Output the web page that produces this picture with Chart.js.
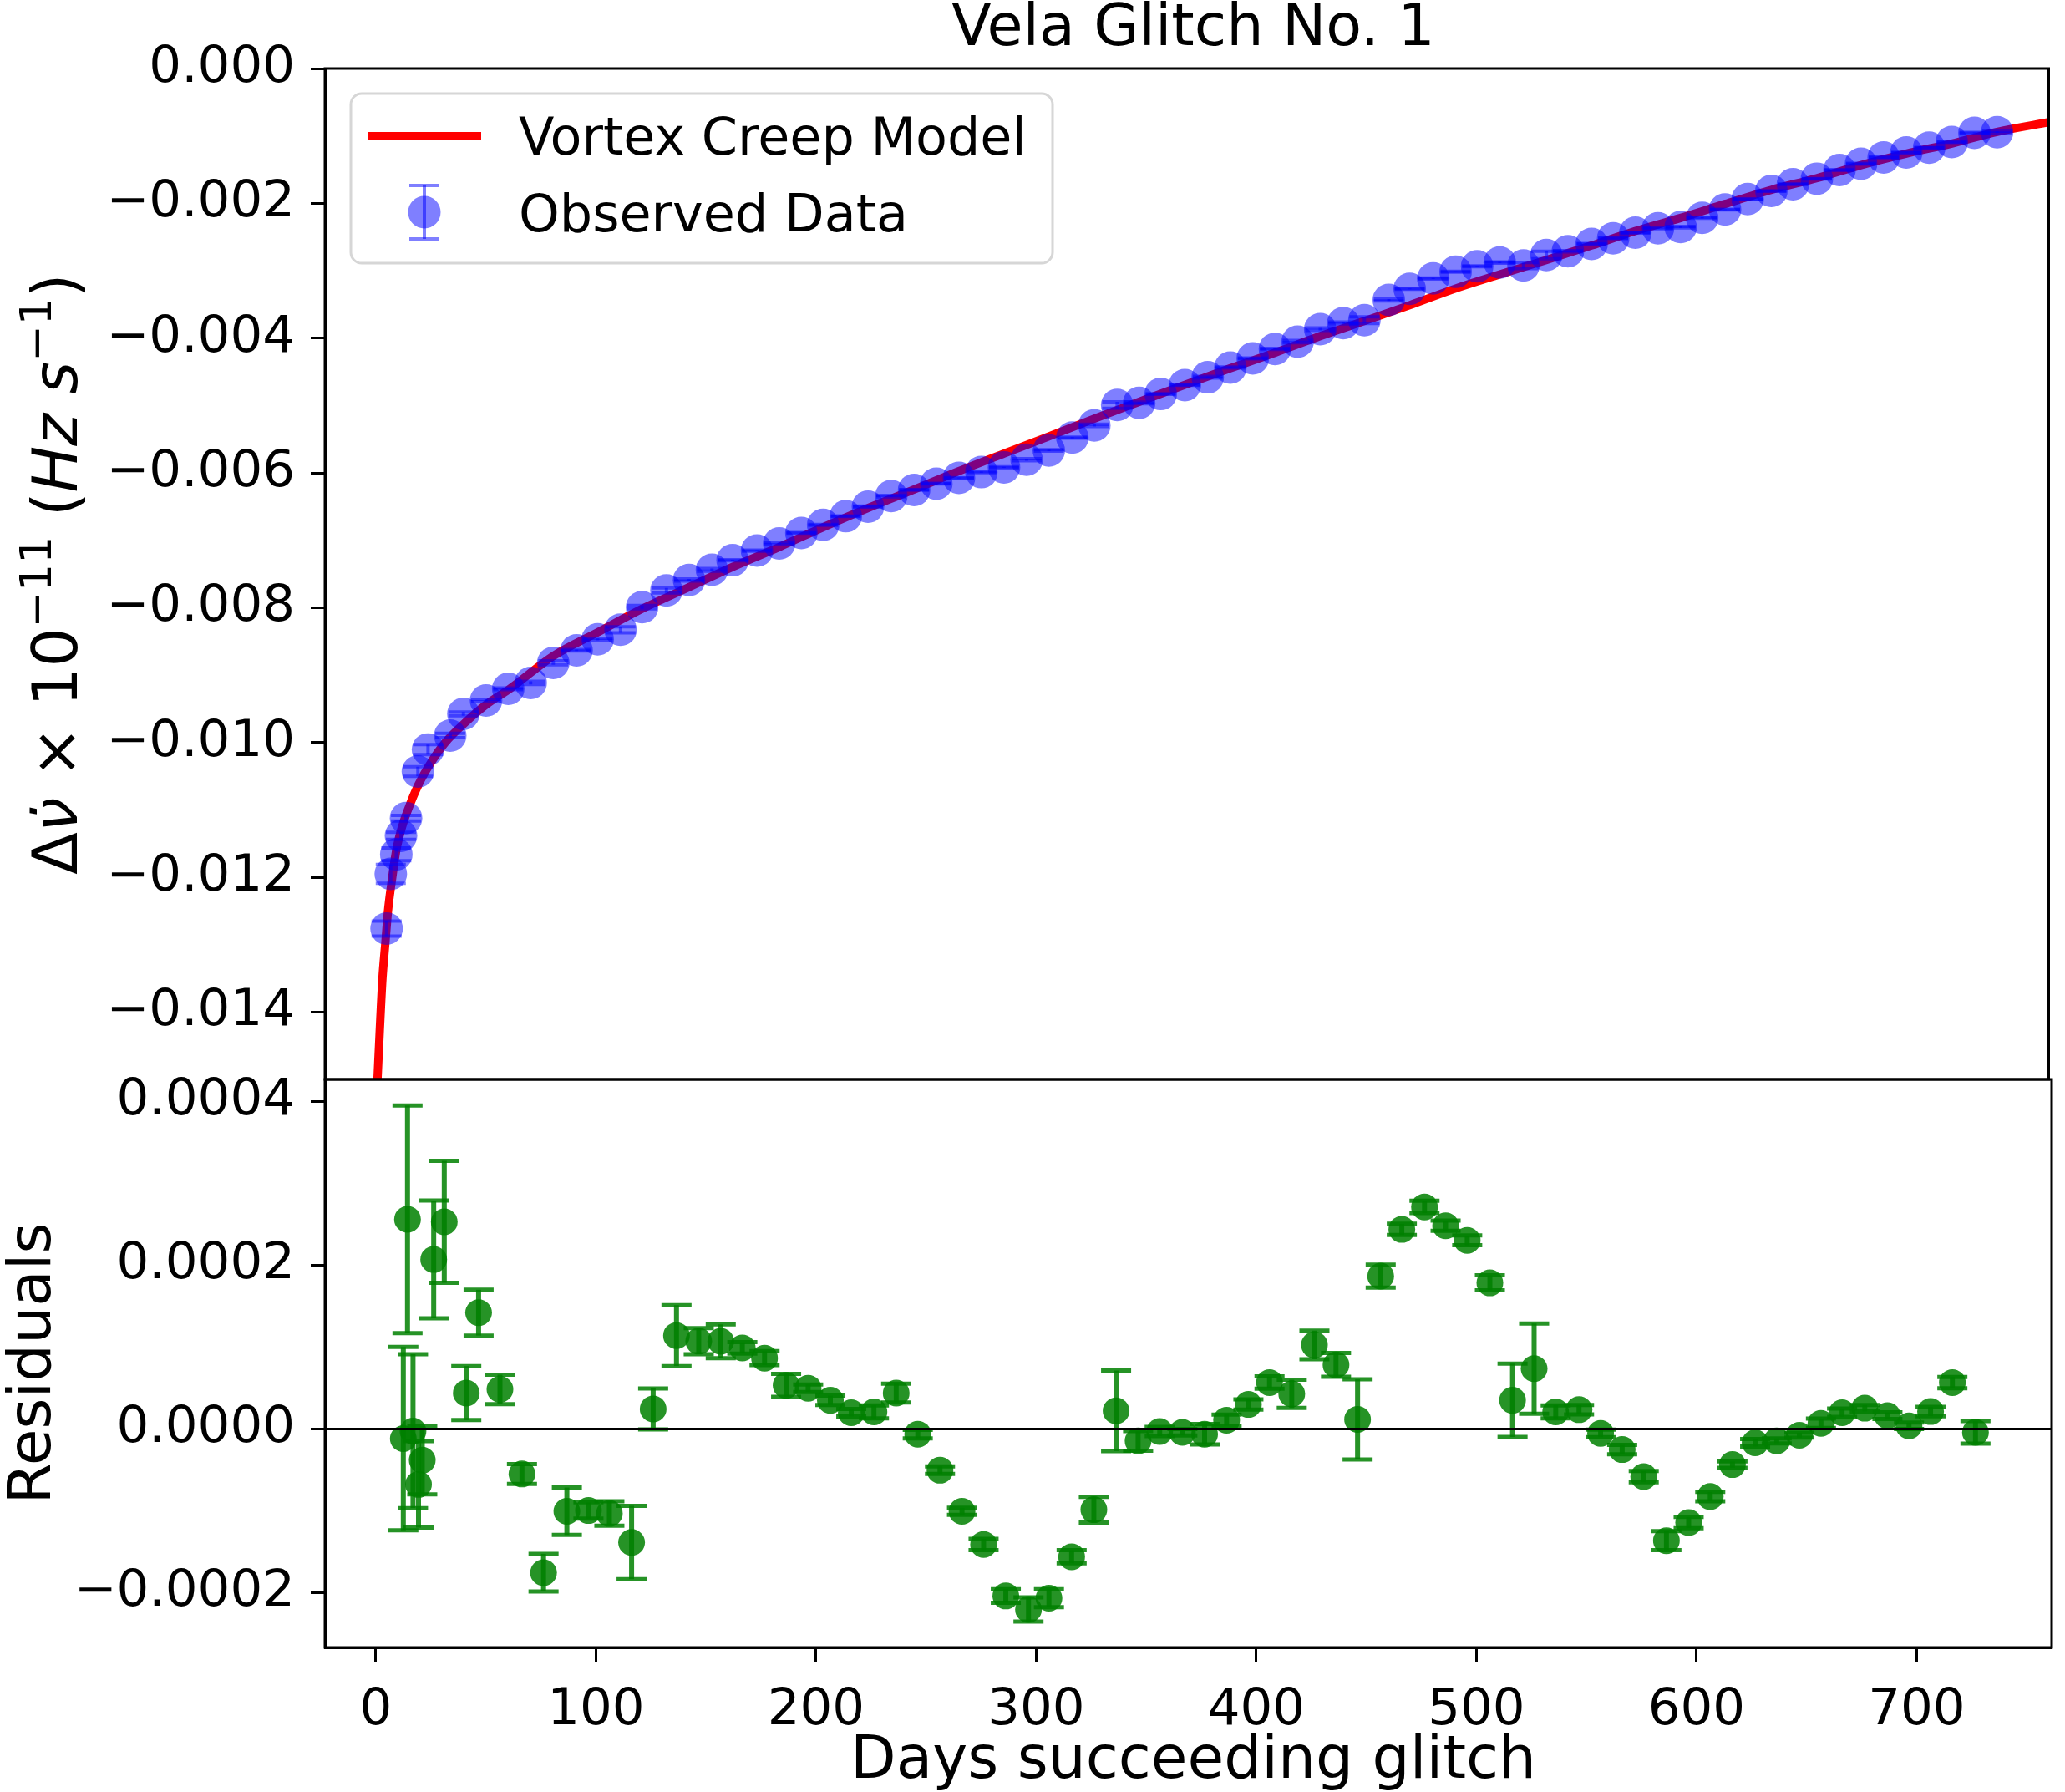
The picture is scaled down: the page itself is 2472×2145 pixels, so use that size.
<!DOCTYPE html>
<html>
<head>
<meta charset="utf-8">
<script src="https://cdn.jsdelivr.net/npm/chart.js@4.4.1/dist/chart.umd.min.js"></script>
<style>
html,body{margin:0;padding:0;background:#ffffff;}
#wrap{position:relative;width:2472px;height:2145px;background:#ffffff;}
#wrap canvas{position:absolute;left:0;top:0;}
</style>
</head>
<body>
<div id="wrap">
<canvas id="topPanel" width="2472" height="2145" style="width:2472px;height:2145px"></canvas>
<canvas id="botPanel" width="2472" height="2145" style="width:2472px;height:2145px"></canvas>
</div>
<script>
// ---------------- data ----------------
const chartTitle = 'Vela Glitch No. 1';
const xAxisLabel = 'Days succeeding glitch';
const residLabel = 'Residuals';
const legendLabels = ['Vortex Creep Model', 'Observed Data'];

// observed data (top panel)
const obsDays = [4.95, 6.85, 9.36, 11.5, 13.8, 19.2, 23.8, 33.9, 39.9, 50.2, 60.3,
  70.5, 80.8, 91.4, 101.0, 111.4, 121.2, 132.3, 142.6, 153.0, 162.4, 173.5, 183.6, 193.7, 203.6,
  213.9, 224.0, 234.6, 245.0, 255.1, 265.4, 275.6, 285.9, 296.2, 306.3, 317.0, 327.0, 337.4, 347.4, 357.2,
  368.2, 378.6, 388.9, 399.1, 409.2, 419.5, 429.8, 440.3, 449.9, 461.0, 470.5, 481.2,
  491.4, 501.2, 511.5, 522.3, 532.7, 542.5, 553.3, 563.1, 573.2, 583.5,
  593.8, 603.6, 614.0, 624.3, 635.1, 644.9, 655.8, 666.1, 675.9, 686.2,
  696.5, 706.9, 717.2, 727.5, 737.8];
const obsValues = [-0.012763, -0.011950, -0.011661, -0.011385, -0.011124, -0.010431, -0.010105, -0.009898, -0.009576, -0.009378, -0.009205,
  -0.009117, -0.008819, -0.008633, -0.008470, -0.008328, -0.007994, -0.007745, -0.007589, -0.007439, -0.007297,
  -0.007154, -0.007048, -0.006892, -0.006772, -0.006643, -0.006501, -0.006345, -0.006253, -0.006160, -0.006075,
  -0.005989, -0.005918, -0.005804, -0.005667, -0.005477, -0.005295, -0.004994, -0.004961, -0.004830,
  -0.004697, -0.004582, -0.004437, -0.004301, -0.004161, -0.004053, -0.003868, -0.003777, -0.003735, -0.003434, -0.003269, -0.003116,
  -0.003017, -0.002934, -0.002878, -0.002923, -0.002768, -0.002712, -0.002602, -0.002519, -0.002436, -0.002370,
  -0.002353, -0.002215, -0.002093, -0.001938, -0.001817, -0.001718, -0.001635, -0.001507, -0.001413, -0.001319,
  -0.001247, -0.001175, -0.001092, -0.000955, -0.000944];
// 1-sigma uncertainties (same for observed points and residuals)
const errors = [0.000112, 0.000139, 0.000094, 0.0000528, 0.0000418, 0.000072, 0.0000745, 0.000033, 0.000028, 0.000018,
  0.000012, 0.000023, 0.000029, 0.00001, 0.000015, 0.0000448, 0.000025, 0.0000372, 0.000016, 0.0000207,
  0.000007, 0.0000085, 0.000014, 0.0000046, 0.0000057, 0.0000046, 0.000008, 0.0000115, 0.0000052, 0.0000046,
  0.0000043, 0.0000069, 0.0000084, 0.0000148, 0.000011, 0.000008, 0.0000157, 0.0000492, 0.000012, 0.0000057,
  0.000004, 0.0000125, 0.0000069, 0.0000062, 0.0000076, 0.0000172, 0.0000175, 0.0000145, 0.0000489, 0.000014,
  0.0000069, 0.0000076, 0.0000062, 0.000006, 0.0000092, 0.0000448, 0.0000552, 0.000008, 0.0000057, 0.0000046,
  0.0000057, 0.0000069, 0.0000115, 0.0000069, 0.0000057, 0.0000039, 0.0000046, 0.000003, 0.000003, 0.0000057,
  0.000005, 0.000004, 0.000004, 0.000004, 0.0000057, 0.0000069, 0.0000137];

// residuals (bottom panel)
const residDays = [12.5, 14.4, 16.9, 19.4, 21.1, 26.3, 31.1, 41.1, 46.7, 56.4, 66.4, 76.2, 86.8, 96.6, 106.1, 116.2,
  126.0, 136.6, 146.7, 156.7, 166.5, 176.6, 186.4, 196.4, 206.5, 216.0, 226.3, 236.4, 246.2, 256.3, 266.3, 276.1,
  286.2, 296.5, 305.8, 316.1, 326.2, 336.3, 346.3, 356.1, 366.4, 376.5, 386.5, 396.4, 406.0, 416.1, 426.4, 436.2,
  446.0, 456.5, 466.1, 476.4, 486.0, 495.8, 506.1, 516.4, 526.2, 536.0, 546.6, 556.4, 566.2, 576.0, 586.3, 596.4,
  606.2, 616.3, 626.6, 636.4, 646.7, 656.5, 666.1, 676.4, 686.7, 696.5, 706.3, 716.2, 726.7];
const residuals = [-0.0000118, 0.000256, -0.0000027, -0.0000678, -0.0000382, 0.000207, 0.000253, 0.0000438, 0.000142, 0.0000483,
  -0.0000551, -0.0001756, -0.0001006, -0.0000997, -0.0001033, -0.0001387, 0.0000244, 0.000114, 0.0001072, 0.000107,
  0.0000989, 0.0000865, 0.0000533, 0.0000497, 0.000035, 0.0000198, 0.0000208, 0.0000438, -0.0000064, -0.0000505,
  -0.0001006, -0.0001411, -0.0002041, -0.0002206, -0.0002068, -0.0001562, -0.0000987, 0.0000221, -0.0000147, -0.0000032,
  -0.0000041, -0.0000064, 0.0000107, 0.0000299, 0.0000566, 0.0000428, 0.0001026, 0.0000782, 0.0000116, 0.0001867,
  0.0002437, 0.0002712, 0.0002482, 0.0002303, 0.0001784, 0.000035, 0.0000736, 0.0000208, 0.0000235, -0.0000055,
  -0.0000252, -0.0000583, -0.0001365, -0.0001144, -0.0000826, -0.0000436, -0.0000169, -0.0000146, -0.0000077, 0.0000069,
  0.0000198, 0.0000253, 0.0000162, 0.0000038, 0.0000212, 0.0000566, -0.0000042];

// vortex creep model curve
const modelDays = [0.8, 1.81, 3.07, 4.33, 5.59, 7.2, 9.36, 11.9, 15.0, 19.4, 25.1, 31.4, 40.2, 50.2, 61.6,
  80.8, 101.0, 121.2, 142.6, 162.4, 183.6, 203.6, 224.0, 245.0, 265.4, 285.9, 306.3, 327.0, 347.4, 368.2,
  388.9, 409.2, 429.8, 449.9, 470.5, 491.4, 511.5, 532.7, 553.3, 573.2, 593.8, 614.0, 635.1, 655.8, 675.9,
  696.5, 717.2, 737.8, 762.4];
const modelValues = [-0.01500, -0.01430, -0.01350, -0.01300, -0.01250, -0.01208, -0.01160, -0.01126, -0.01097, -0.01063,
  -0.01030, -0.01001, -0.00972, -0.00944, -0.00919,
  -0.008718, -0.008367, -0.008018, -0.007696, -0.007396, -0.007101, -0.006807, -0.006522, -0.006247, -0.005974,
  -0.005714, -0.005460, -0.005196, -0.004946, -0.004693, -0.004448, -0.004218, -0.003971, -0.003747, -0.003513,
  -0.003265, -0.003056, -0.002842, -0.002626, -0.002411, -0.002217, -0.002010, -0.001800, -0.001627, -0.001433,
  -0.001263, -0.001113, -0.000940, -0.00079];

// tick values
const topTicks = [0, -0.002, -0.004, -0.006, -0.008, -0.010, -0.012, -0.014];
const residTicks = [0.0004, 0.0002, 0, -0.0002];
const dayTicks = [0, 100, 200, 300, 400, 500, 600, 700];

// ---------------- layout / style ----------------
const W = 2472, H = 2145;
const AX_L = 389, AX_R = 2468, TOP_T = 82, SPLIT = 1292, BOT_B = 1972;
const X_MIN = -23.1, X_MAX = 761.3;
const FONT = 'DejaVu Sans';
const TICK_FONT = 61, LEGEND_FONT = 62, LABEL_FONT = 71, TITLE_FONT = 70, YMATH_FONT = 74;
Chart.defaults.font.family = FONT;
Chart.defaults.color = '#000';

function fmt(v, d) {
  const s = (Math.abs(v) < 1e-12 ? 0 : v).toFixed(d);
  return s.replace('-', '\u2212');
}

function fixTicks(list) {
  return function (scale) { scale.ticks = list.map(v => ({ value: v })); };
}

const axisGrid = { display: true, drawOnChartArea: false, drawTicks: true, tickLength: 17, tickWidth: 3, tickColor: '#000' };
const axisBorder = { display: true, color: '#000', width: 3 };

// error bars drawn through the chart's scales
const errorBarPlugin = {
  id: 'errorBars',
  afterDatasetsDraw(chart, args, opts) {
    const ds = chart.data.datasets[opts.datasetIndex];
    const xs = chart.scales.x, ys = chart.scales.y;
    const ctx = chart.ctx, a = chart.chartArea;
    ctx.save();
    ctx.beginPath(); ctx.rect(a.left, a.top, a.right - a.left, a.bottom - a.top); ctx.clip();
    ctx.strokeStyle = opts.color;
    ctx.lineCap = 'butt';
    ds.data.forEach((p, i) => {
      const e = opts.errors[i];
      const x = xs.getPixelForValue(p.x);
      const y1 = ys.getPixelForValue(p.y - e);
      const y2 = ys.getPixelForValue(p.y + e);
      ctx.lineWidth = opts.barWidth;
      ctx.beginPath(); ctx.moveTo(x, y1); ctx.lineTo(x, y2); ctx.stroke();
      ctx.lineWidth = opts.capThick;
      ctx.beginPath();
      ctx.moveTo(x - opts.capHalf, y1); ctx.lineTo(x + opts.capHalf, y1);
      ctx.stroke();
      ctx.beginPath();
      ctx.moveTo(x - opts.capHalf, y2); ctx.lineTo(x + opts.capHalf, y2);
      ctx.stroke();
    });
    ctx.restore();
  }
};

const framePlugin = {
  id: 'frame',
  afterDraw(chart) {
    const ctx = chart.ctx, a = chart.chartArea;
    ctx.save();
    ctx.strokeStyle = '#000';
    ctx.lineWidth = 3;
    ctx.strokeRect(a.left, a.top, a.right - a.left, a.bottom - a.top);
    ctx.restore();
  }
};

function drawMathYLabel(ctx, baseX, centerY, size) {
  const segs = [
    { t: '\u0394', it: false, s: 1, r: 0 },
    { t: '\u03BD\u0307', it: true, s: 1, r: 0 },
    { t: ' \u00D7 ', it: false, s: 1, r: 0 },
    { t: '10', it: false, s: 1, r: 0 },
    { t: '\u221211', it: false, s: 0.7, r: 0.42 },
    { t: ' (', it: false, s: 1, r: 0 },
    { t: 'Hz', it: true, s: 1, r: 0 },
    { t: ' ', it: false, s: 1, r: 0 },
    { t: 's', it: true, s: 1, r: 0 },
    { t: '\u22121', it: false, s: 0.7, r: 0.42 },
    { t: ')', it: false, s: 1, r: 0 }
  ];
  const fontOf = g => (g.it ? 'italic ' : '') + Math.round(size * g.s) + 'px "' + FONT + '"';
  let total = 0;
  segs.forEach(g => { ctx.font = fontOf(g); g.w = ctx.measureText(g.t).width; total += g.w; });
  ctx.save();
  ctx.translate(baseX, centerY);
  ctx.rotate(-Math.PI / 2);
  ctx.fillStyle = '#000';
  ctx.textBaseline = 'alphabetic';
  ctx.textAlign = 'left';
  let x = -total / 2;
  segs.forEach(g => {
    ctx.font = fontOf(g);
    ctx.fillText(g.t, x, -g.r * size);
    x += g.w;
  });
  ctx.restore();
}

const topDecor = {
  id: 'topDecor',
  afterDraw(chart) {
    const ctx = chart.ctx;
    ctx.save();
    // title
    ctx.fillStyle = '#000';
    ctx.font = TITLE_FONT + 'px "' + FONT + '"';
    ctx.textAlign = 'center';
    ctx.textBaseline = 'alphabetic';
    ctx.fillText(chartTitle, (AX_L + AX_R) / 2, 54);
    // y label
    drawMathYLabel(ctx, 92, (TOP_T + SPLIT) / 2, YMATH_FONT);
    // legend box
    const bx = 420, by = 112, bw = 840, bh = 203, rr = 13;
    ctx.beginPath();
    ctx.roundRect(bx, by, bw, bh, rr);
    ctx.fillStyle = 'rgba(255,255,255,0.8)';
    ctx.fill();
    ctx.lineWidth = 3;
    ctx.strokeStyle = '#d6d6d6';
    ctx.stroke();
    // red line handle
    ctx.strokeStyle = 'red';
    ctx.lineWidth = 10;
    ctx.lineCap = 'butt';
    ctx.beginPath(); ctx.moveTo(440, 163); ctx.lineTo(576, 163); ctx.stroke();
    // errorbar handle
    ctx.fillStyle = 'rgba(0,0,255,0.5)';
    ctx.beginPath(); ctx.arc(508, 254, 19.5, 0, Math.PI * 2); ctx.fill();
    ctx.strokeStyle = 'rgba(0,0,255,0.5)';
    ctx.lineWidth = 4;
    ctx.beginPath(); ctx.moveTo(508, 222); ctx.lineTo(508, 286); ctx.stroke();
    ctx.beginPath(); ctx.moveTo(490, 222); ctx.lineTo(526, 222); ctx.stroke();
    ctx.beginPath(); ctx.moveTo(490, 286); ctx.lineTo(526, 286); ctx.stroke();
    // legend text
    ctx.fillStyle = '#000';
    ctx.font = LEGEND_FONT + 'px "' + FONT + '"';
    ctx.textAlign = 'left';
    ctx.fillText(legendLabels[0], 621, 185);
    ctx.fillText(legendLabels[1], 621, 277);
    ctx.restore();
  }
};

const botDecor = {
  id: 'botDecor',
  afterDatasetsDraw(chart) {
    const ctx = chart.ctx, a = chart.chartArea;
    const y0 = chart.scales.y.getPixelForValue(0);
    ctx.save();
    ctx.strokeStyle = '#000';
    ctx.lineWidth = 3;
    ctx.beginPath(); ctx.moveTo(a.left, y0); ctx.lineTo(a.right, y0); ctx.stroke();
    ctx.restore();
  },
  afterDraw(chart) {
    const ctx = chart.ctx;
    ctx.save();
    ctx.fillStyle = '#000';
    ctx.font = LABEL_FONT + 'px "' + FONT + '"';
    ctx.textAlign = 'center';
    ctx.textBaseline = 'alphabetic';
    ctx.fillText(xAxisLabel, (AX_L + AX_R) / 2, 2128);
    ctx.translate(60, (SPLIT + BOT_B) / 2);
    ctx.rotate(-Math.PI / 2);
    ctx.fillText(residLabel, 0, 0);
    ctx.restore();
  }
};

const obsPoints = obsDays.map((d, i) => ({ x: d, y: obsValues[i] }));
const modelPoints = modelDays.map((d, i) => ({ x: d, y: modelValues[i] }));
const residPoints = residDays.map((d, i) => ({ x: d, y: residuals[i] }));

new Chart(document.getElementById('topPanel'), {
  type: 'scatter',
  data: {
    datasets: [
      {
        label: legendLabels[0], data: modelPoints, showLine: true, pointRadius: 0,
        borderColor: 'red', borderWidth: 10, cubicInterpolationMode: 'monotone',
        clip: 0, order: 2
      },
      {
        label: legendLabels[1], data: obsPoints, pointRadius: 19.5, pointHoverRadius: 19.5,
        backgroundColor: 'rgba(0,0,255,0.5)', borderWidth: 0, pointBorderWidth: 0, order: 1
      }
    ]
  },
  options: {
    responsive: false, animation: false, devicePixelRatio: 1,
    layout: { padding: { top: TOP_T, left: 0, right: W - AX_R, bottom: H - SPLIT } },
    plugins: {
      legend: { display: false }, tooltip: { enabled: false }, title: { display: false },
      errorBars: { datasetIndex: 1, errors: errors, color: 'rgba(0,0,255,0.5)', barWidth: 4, capThick: 4, capHalf: 18 }
    },
    scales: {
      x: { type: 'linear', display: false, min: X_MIN, max: X_MAX },
      y: {
        type: 'linear', min: -0.015, max: 0,
        afterBuildTicks: fixTicks(topTicks),
        afterFit: s => { s.width = AX_L; },
        ticks: { font: { size: TICK_FONT }, color: '#000', padding: 19, callback: v => fmt(v, 3) },
        grid: axisGrid, border: axisBorder
      }
    }
  },
  plugins: [errorBarPlugin, framePlugin, topDecor]
});

new Chart(document.getElementById('botPanel'), {
  type: 'scatter',
  data: {
    datasets: [
      {
        label: residLabel, data: residPoints, pointRadius: 16, pointHoverRadius: 16,
        backgroundColor: 'rgba(0,128,0,0.85)', borderWidth: 0, pointBorderWidth: 0
      }
    ]
  },
  options: {
    responsive: false, animation: false, devicePixelRatio: 1,
    layout: { padding: { top: SPLIT, left: 0, right: W - AX_R, bottom: 0 } },
    plugins: {
      legend: { display: false }, tooltip: { enabled: false }, title: { display: false },
      errorBars: { datasetIndex: 0, errors: errors, color: 'rgba(0,128,0,0.85)', barWidth: 6, capThick: 5, capHalf: 18 }
    },
    scales: {
      x: {
        type: 'linear', min: X_MIN, max: X_MAX,
        afterBuildTicks: fixTicks(dayTicks),
        afterFit: s => { s.height = H - BOT_B; },
        ticks: { font: { size: TICK_FONT }, color: '#000', padding: 23, maxRotation: 0, autoSkip: false, callback: v => String(v) },
        grid: axisGrid, border: axisBorder
      },
      y: {
        type: 'linear', min: -0.000267, max: 0.000427,
        afterBuildTicks: fixTicks(residTicks),
        afterFit: s => { s.width = AX_L; },
        ticks: { font: { size: TICK_FONT }, color: '#000', padding: 19, callback: v => fmt(v, 4) },
        grid: axisGrid, border: axisBorder
      }
    }
  },
  plugins: [errorBarPlugin, framePlugin, botDecor]
});
</script>
</body>
</html>
